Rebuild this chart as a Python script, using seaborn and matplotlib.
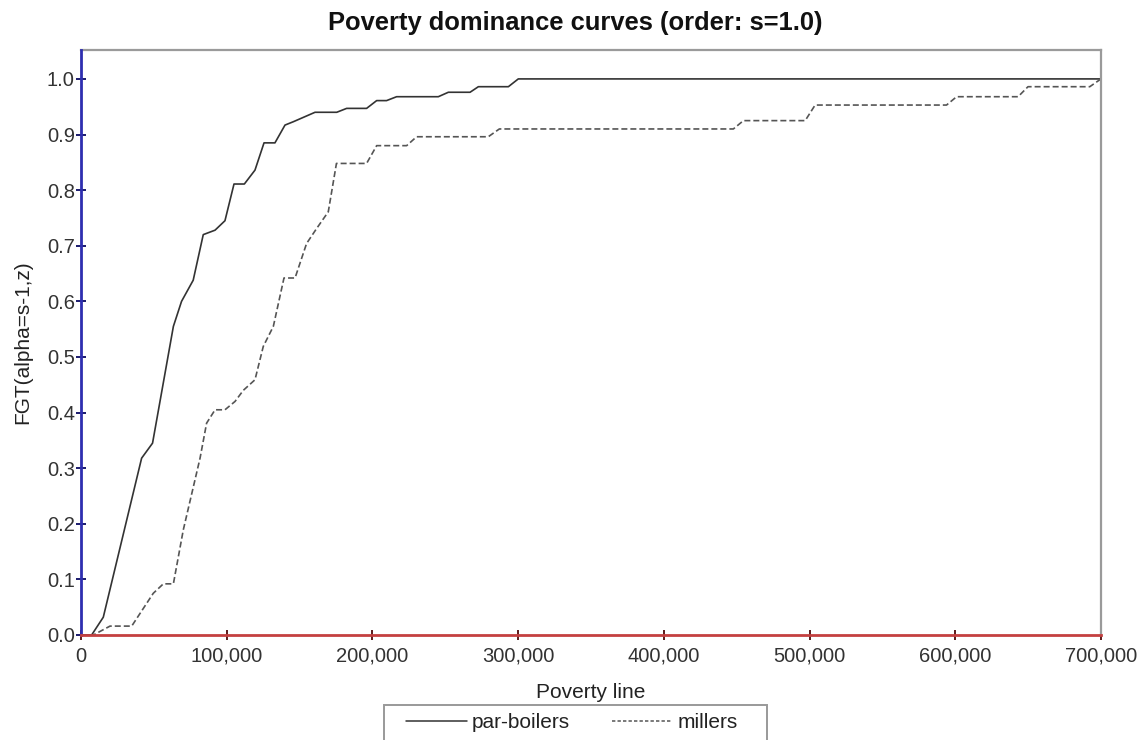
import matplotlib
matplotlib.use("Agg")
import matplotlib.pyplot as plt
import seaborn as sns
import pandas as pd
from matplotlib.patches import Rectangle
from matplotlib.ticker import FuncFormatter, MultipleLocator

# ---- data ----
series_names = ["par-boilers", "millers"]

pb_x = [0, 7300, 15300, 41600, 49100, 63400, 69000, 77000, 83900, 92000, 98800,
        105000, 112100, 119400, 125600, 133100, 140000, 145700, 160600, 175500,
        182300, 196000, 202900, 209700, 216600, 245200, 252100, 267000, 272700,
        293300, 300100, 700000]
pb_y = [0.0, 0.0, 0.032, 0.318, 0.345, 0.555, 0.60, 0.638, 0.72, 0.728, 0.745,
        0.811, 0.811, 0.836, 0.885, 0.885, 0.917, 0.923, 0.94, 0.94,
        0.947, 0.947, 0.961, 0.961, 0.968, 0.968, 0.976, 0.976, 0.986,
        0.986, 1.0, 1.0]

ml_x = [0, 8500, 19900, 34800, 49600, 56500, 63400, 70200, 81700, 86200, 92000,
        98800, 105700, 111400, 119400, 125100, 132000, 139300, 146900, 154800,
        161700, 169700, 175300, 196000, 202900, 223500, 230300, 279500, 287100,
        447700, 454600, 497000, 503800, 594000, 600900, 643100, 649900, 692300,
        700000]
ml_y = [0.0, 0.0, 0.016, 0.016, 0.075, 0.092, 0.092, 0.189, 0.318, 0.381, 0.405,
        0.405, 0.42, 0.44, 0.459, 0.519, 0.555, 0.642, 0.642, 0.704,
        0.731, 0.761, 0.848, 0.848, 0.88, 0.88, 0.896, 0.896, 0.91,
        0.91, 0.925, 0.925, 0.953, 0.953, 0.968, 0.968, 0.986, 0.986,
        1.0]

title = "Poverty dominance curves (order: s=1.0)"
xlabel = "Poverty line"
ylabel = "FGT(alpha=s-1,z)"

# ---- plot ----
sns.set_style("white")
plt.rcParams["font.family"] = ["Liberation Sans", "DejaVu Sans"]

W, H = 1146, 740
fig = plt.figure(figsize=(W / 100, H / 100), dpi=100)
ax = fig.add_axes([81 / W, 1 - 635 / H, 1020 / W, 585 / H])

df_pb = pd.DataFrame({"x": pb_x, "y": pb_y})
df_ml = pd.DataFrame({"x": ml_x, "y": ml_y})
sns.lineplot(data=df_pb, x="x", y="y", ax=ax, color="#333333", lw=1.2,
             label=series_names[0], estimator=None, sort=False)
sns.lineplot(data=df_ml, x="x", y="y", ax=ax, color="#555555", lw=1.2,
             linestyle=(0, (3.6, 1.8)), label=series_names[1],
             estimator=None, sort=False)

ax.set_xlim(0, 700000)
ax.set_ylim(0, 1.052)
ax.xaxis.set_major_locator(MultipleLocator(100000))
ax.yaxis.set_major_locator(MultipleLocator(0.1))
ax.xaxis.set_major_formatter(FuncFormatter(lambda v, p: f"{int(v):,}"))
ax.yaxis.set_major_formatter(FuncFormatter(lambda v, p: f"{v:.1f}"))

for s in ("top", "right"):
    ax.spines[s].set_color("#9a9a9a")
    ax.spines[s].set_linewidth(1.6)
ax.spines["left"].set_color("#2e2eb0")
ax.spines["left"].set_linewidth(2.0)
ax.spines["bottom"].set_color("#c44040")
ax.spines["bottom"].set_linewidth(2.0)
ax.spines["left"].set_zorder(5)
ax.spines["bottom"].set_zorder(5)

ax.tick_params(axis="y", direction="inout", length=7, width=1.4,
               color="#1a1a6e", labelsize=14.5, labelcolor="#333333", left=True, pad=1)
ax.tick_params(axis="x", direction="inout", length=7, width=1.4,
               color="#5a1a1a", labelsize=14.5, labelcolor="#333333", bottom=True, pad=5)

ax.set_xlabel(xlabel, fontsize=15, color="#222222", va="top")
ax.xaxis.set_label_coords(0.5, (635 - 683) / 585)
ax.set_ylabel(ylabel, fontsize=15, color="#222222")
ax.yaxis.set_label_coords((32 - 81) / 1020, 0.5)

fig.text(575 / W, 1 - 11 / H, title, fontsize=18.4, fontweight="bold",
         ha="center", va="top", color="#111111")

ax.get_legend().remove()
h, l = ax.get_legend_handles_labels()
leg = fig.legend(h, l, loc="upper center", bbox_to_anchor=(572 / W, 1 - 704 / H), ncol=2,
                 frameon=False, fontsize=15, handlelength=2.9,
                 columnspacing=2.0, handletextpad=0.25, borderpad=0.45,
                 borderaxespad=0)
for line in leg.get_lines():
    line.set_linewidth(1.1)
leg.get_lines()[1].set_linestyle((0, (2.2, 1.4)))
for t in leg.get_texts():
    t.set_color("#222222")
# legend frame box (extends past the bottom edge as in the reference)
fig.patches.append(Rectangle((384 / W, -0.02), (767 - 384) / W, (0.02 + 1 - 705 / H),
                             transform=fig.transFigure, fill=False,
                             edgecolor="#999999", linewidth=1.4))

fig.savefig("out.png", dpi=100, facecolor="white")
